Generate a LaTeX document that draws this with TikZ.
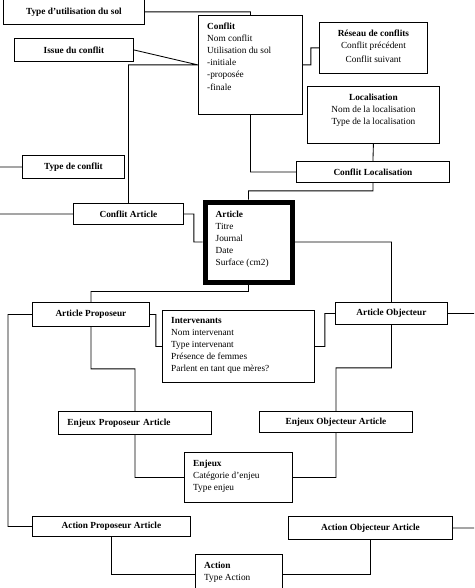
\documentclass[tikz,border=0pt]{standalone}
\usepackage{fontspec}
\setmainfont{Liberation Serif}
\begin{document}
\begin{tikzpicture}
  [x=1pt,y=-1pt,
   every node/.style={inner sep=0pt},
   box/.style={draw,line width=.85pt,anchor=north west,font=\fontsize{9.3}{12}\selectfont\bfseries},
   txt/.style={anchor=north west,align=left,font=\fontsize{9.3}{12}\selectfont},
   link/.style={line width=.85pt}]
  \useasboundingbox (0,0) rectangle (474,588);
  \coordinate (edgeL) at (0,0);
  \coordinate (edgeR) at (474,0);

  % entity boxes
  \node[box,minimum width=141pt,minimum height=25pt] (use) at (3,-1) {Type d'utilisation du sol};
  \node[box,minimum width=119pt,minimum height=23pt] (issue) at (14,38) {Issue du conflit};
  \node[box,minimum width=102pt,minimum height=23pt] (typec) at (22,155) {Type de conflit};
  \node[box,minimum width=104pt,minimum height=99pt] (conflit) at (198,15) {};
  \node[box,minimum width=108pt,minimum height=51pt] (reseau) at (319,22) {};
  \node[box,minimum width=132pt,minimum height=57pt] (loc) at (307,86) {};
  \node[box,minimum width=153pt,minimum height=21pt] (confloc) at (296,161) {Conflit Localisation};
  \node[box,minimum width=110pt,minimum height=21pt] (confart) at (73,203) {Conflit Article};
  \node[box,line width=5pt,minimum width=87pt,minimum height=80pt] (article) at (202.5,199.5) {};
  \node[box,minimum width=117pt,minimum height=24pt] (artprop) at (32,302) {Article Proposeur};
  \node[box,minimum width=152pt,minimum height=72pt] (interv) at (162,310) {};
  \node[box,minimum width=112pt,minimum height=22pt] (artobj) at (335,302) {Article Objecteur};
  \node[box,minimum width=153pt,minimum height=23pt,text width=135pt,align=left] (enjprop) at (58,411) {Enjeux Proposeur Article};
  \node[box,minimum width=153pt,minimum height=21pt] (enjobj) at (259,411) {Enjeux Objecteur Article};
  \node[box,minimum width=108pt,minimum height=50pt] (enjeux) at (184,452) {};
  \node[box,minimum width=158pt,minimum height=20pt] (actprop) at (32,516) {Action Proposeur Article};
  \node[box,minimum width=164pt,minimum height=23pt] (actobj) at (288,516) {Action Objecteur Article};
  \node[box,minimum width=87pt,minimum height=40pt] (action) at (195,554) {};

  % attribute lists
  \node[txt] (conflitT) at ([shift={(9,8)}]conflit.north west)
    {\textbf{Conflit}\\Nom conflit\\Utilisation du sol\\-initiale\\-propos\'ee\\[1pt]-finale};
  \node[txt,anchor=north,align=center] (reseauT) at ([shift={(0,8)}]reseau.north)
    {\textbf{R\'eseau de conflits}\\Conflit pr\'ec\'edent\\[2pt]Conflit suivant};
  \node[txt,anchor=north,align=center] (locT) at ([shift={(0,8)}]loc.north)
    {\textbf{Localisation}\\Nom de la localisation\\Type de la localisation};
  \node[txt] (articleT) at ([shift={(13,11)}]article.north west)
    {\textbf{Article}\\Titre\\Journal\\Date\\Surface (cm2)};
  \node[txt] (intervT) at ([shift={(9,7)}]interv.north west)
    {\textbf{Intervenants}\\Nom intervenant\\Type intervenant\\Pr\'esence de femmes\\Parlent en tant que m\`eres?};
  \node[txt] (enjeuxT) at ([shift={(9,8)}]enjeux.north west)
    {\textbf{Enjeux}\\Cat\'egorie d'enjeu\\Type enjeu};
  \node[txt] (actionT) at ([shift={(9,8)}]action.north west)
    {\textbf{Action}\\Type Action};

\path[draw,link]
    (use.east) -| (conflit.north)
    (issue.east) -- (conflit.west)
    (confart.north) |- (conflit.west)
    (typec.west) -- (typec.west -| edgeL)
    (confart.west) -- (confart.west -| edgeL)
    (conflit.east) -- ++(8,0) |- (reseau.west)
    (loc.south) -- (confloc.north)
    (conflit.south) |- (confloc.west)
    (confloc.south) -- ++(0,8) -| (article.north)
    (confart.east) -- ++(10,0) |- (article.west)
    (article.east) -| (artobj.north)
    (article.south) -- ++(0,7) -| (artprop.north)
    (artprop.west) -- ++(-24,0) |- (actprop.west)
    (artprop.east) -- ++(6,0) |- (interv.west)
    (interv.east) -- ++(10,0) |- (artobj.west)
    (artobj.east) -- (artobj.east -| edgeR)
    (artprop.south) -- ++(0,42) -| (enjprop.north)
    (artobj.south) -- ++(0,43) -| (enjobj.north)
    (enjprop.south) |- (enjeux.west)
    (enjobj.south) |- (enjeux.east)
    (actprop.south) |- (action.west)
    (actobj.south) |- (action.east)
    (actobj.east) -- (actobj.east -| edgeR)
    ;

\end{tikzpicture}
\end{document}
